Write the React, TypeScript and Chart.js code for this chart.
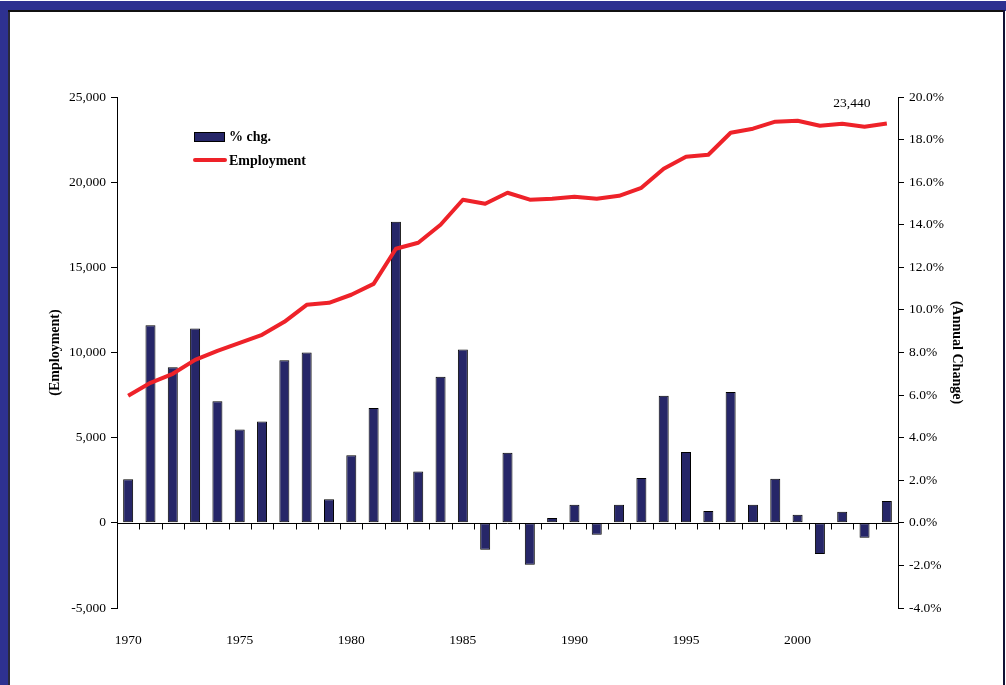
import React, { useEffect, useRef } from 'react';
import { Chart, registerables } from 'chart.js';

Chart.register(...registerables);

const years = [
  '1970', '1971', '1972', '1973', '1974', '1975', '1976', '1977', '1978', '1979',
  '1980', '1981', '1982', '1983', '1984', '1985', '1986', '1987', '1988', '1989',
  '1990', '1991', '1992', '1993', '1994', '1995', '1996', '1997', '1998', '1999',
  '2000', '2001', '2002', '2003', '2004',
];

const employment = [
  7460, 8220, 8750, 9570, 10100, 10570, 11040, 11800, 12800, 12920,
  13390, 14030, 16090, 16440, 17500, 18970, 18730, 19380, 18970, 19030,
  19140, 19030, 19200, 19670, 20790, 21490, 21610, 22900, 23140, 23550,
  23610, 23310, 23430, 23250, 23440,
];

const pctChange = [
  2.05, 9.28, 7.31, 9.13, 5.71, 4.38, 4.76, 7.64, 8.0, 1.11,
  3.18, 5.39, 14.14, 2.41, 6.86, 8.14, -1.27, 3.29, -1.97, 0.23,
  0.85, -0.56, 0.85, 2.11, 5.97, 3.33, 0.56, 6.15, 0.85, 2.07,
  0.38, -1.46, 0.52, -0.7, 1.03,
];

const seriesNames = ['% chg.', 'Employment'];
const axisTitles = ['(Employment)', '(Annual Change)'];

const NAVY = '#262668';
const RED = '#ee2229';
const FRAME = '#2e3190';
const SERIF = '"Liberation Serif", "Times New Roman", serif';

const overlayPlugin = {
  id: 'overlay',
  afterDatasetsDraw(chart: any) {
    const { ctx, chartArea, scales } = chart;
    const y0 = Math.round(scales.y.getPixelForValue(0)) + 0.5;
    const n = years.length;
    const w = (chartArea.right - chartArea.left) / n;
    ctx.save();
    ctx.strokeStyle = '#000';
    ctx.lineWidth = 1;
    ctx.beginPath();
    ctx.moveTo(chartArea.left, y0);
    ctx.lineTo(chartArea.right, y0);
    for (let i = 1; i <= n; i++) {
      const x = Math.round(chartArea.left + i * w) + 0.5;
      ctx.moveTo(x, y0);
      ctx.lineTo(x, y0 + 6);
    }
    ctx.stroke();

    // last value label
    const meta = chart.getDatasetMeta(1);
    const last = meta.data[n - 1];
    ctx.fillStyle = '#000';
    ctx.font = `13.5px ${SERIF}`;
    ctx.textAlign = 'center';
    ctx.textBaseline = 'middle';
    ctx.fillText(employment[n - 1].toLocaleString('en-US'), last.x - 35, last.y - 20);
    ctx.restore();
  },
  afterDraw(chart: any) {
    const { ctx } = chart;
    ctx.save();
    // legend: bar entry
    ctx.fillStyle = NAVY;
    ctx.fillRect(194, 132, 30, 9);
    ctx.strokeStyle = '#000';
    ctx.lineWidth = 1;
    ctx.strokeRect(194.5, 132.5, 30, 9);
    // legend: line entry
    ctx.strokeStyle = RED;
    ctx.lineWidth = 4;
    ctx.lineCap = 'round';
    ctx.beginPath();
    ctx.moveTo(195, 160);
    ctx.lineTo(225, 160);
    ctx.stroke();
    ctx.fillStyle = '#000';
    ctx.font = `bold 14px ${SERIF}`;
    ctx.textAlign = 'left';
    ctx.textBaseline = 'middle';
    ctx.fillText(seriesNames[0], 229, 137);
    ctx.fillText(seriesNames[1], 229, 161);
    ctx.restore();
  },
};

export default function App() {
  const ref = useRef<HTMLCanvasElement>(null);

  useEffect(() => {
    if (!ref.current) return;
    Chart.defaults.color = '#000';
    const chart = new Chart(ref.current, {
      type: 'bar',
      data: {
        labels: years,
        datasets: [
          {
            type: 'bar',
            label: seriesNames[0],
            data: pctChange,
            yAxisID: 'y1',
            backgroundColor: NAVY,
            borderColor: '#000',
            borderWidth: 1,
            borderSkipped: false,
            inflateAmount: 0,
            barThickness: 10,
            order: 1,
          },
          {
            type: 'line',
            label: seriesNames[1],
            data: employment,
            yAxisID: 'y',
            borderColor: RED,
            borderWidth: 4,
            pointRadius: 0,
            tension: 0,
            borderJoinStyle: 'round',
            order: 0,
          },
        ],
      } as any,
      options: {
        animation: false,
        responsive: false,
        devicePixelRatio: 1,
        layout: { padding: { top: 97, left: 0, right: 0, bottom: 0 } },
        plugins: {
          legend: { display: false },
          tooltip: { enabled: false },
        },
        scales: {
          x: {
            type: 'category',
            offset: true,
            grid: { display: false },
            border: { display: false },
            ticks: {
              autoSkip: false,
              maxRotation: 0,
              padding: 16,
              font: { family: SERIF, size: 13.5 },
              color: '#000',
              callback: (v: any, i: number) => (Number(years[i]) % 5 === 0 ? years[i] : ''),
            },
            afterFit: (s: any) => { s.height = 77; },
          },
          y: {
            position: 'left',
            min: -5000,
            max: 25000,
            ticks: {
              stepSize: 5000,
              padding: 5,
              font: { family: SERIF, size: 13.5 },
              color: '#000',
              callback: (v: any) => Number(v).toLocaleString('en-US'),
            },
            grid: { drawOnChartArea: false, drawTicks: true, tickLength: 6, color: '#000' },
            border: { display: true, color: '#000', width: 1 },
            title: {
              display: true,
              text: axisTitles[0],
              font: { family: SERIF, size: 14, weight: 'bold' },
              color: '#000',
              padding: { top: 47, bottom: 0 },
            },
            afterFit: (s: any) => { s.width = 117; },
          },
          y1: {
            position: 'right',
            min: -4,
            max: 20,
            ticks: {
              stepSize: 2,
              padding: 5,
              font: { family: SERIF, size: 13.5 },
              color: '#000',
              callback: (v: any) => Number(v).toFixed(1) + '%',
            },
            grid: { drawOnChartArea: false, drawTicks: true, tickLength: 6, color: '#000' },
            border: { display: true, color: '#000', width: 1 },
            title: {
              display: true,
              text: axisTitles[1],
              font: { family: SERIF, size: 14, weight: 'bold' },
              color: '#000',
              padding: { top: 41, bottom: 0 },
            },
            afterFit: (s: any) => { s.width = 108; },
          },
        },
      } as any,
      plugins: [overlayPlugin],
    });
    return () => chart.destroy();
  }, []);

  return (
    <div style={{ position: 'fixed', left: 0, top: 0, width: 1006, height: 685, background: '#fff', overflow: 'hidden' }}>
      <div style={{ position: 'absolute', left: 0, top: 1, width: 1006, height: 10, background: FRAME }} />
      <div style={{ position: 'absolute', left: 0, top: 1, width: 8, height: 684, background: FRAME }} />
      <div style={{ position: 'absolute', left: 8, top: 10, width: 2, height: 675, background: '#2a2a3a' }} />
      <div style={{ position: 'absolute', left: 8, top: 10, width: 996, height: 2, background: '#111' }} />
      <div style={{ position: 'absolute', left: 1003, top: 10, width: 2, height: 675, background: '#111133' }} />
      <canvas ref={ref} width={1006} height={685} style={{ position: 'absolute', left: 0, top: 0, width: 1006, height: 685 }} />
    </div>
  );
}
